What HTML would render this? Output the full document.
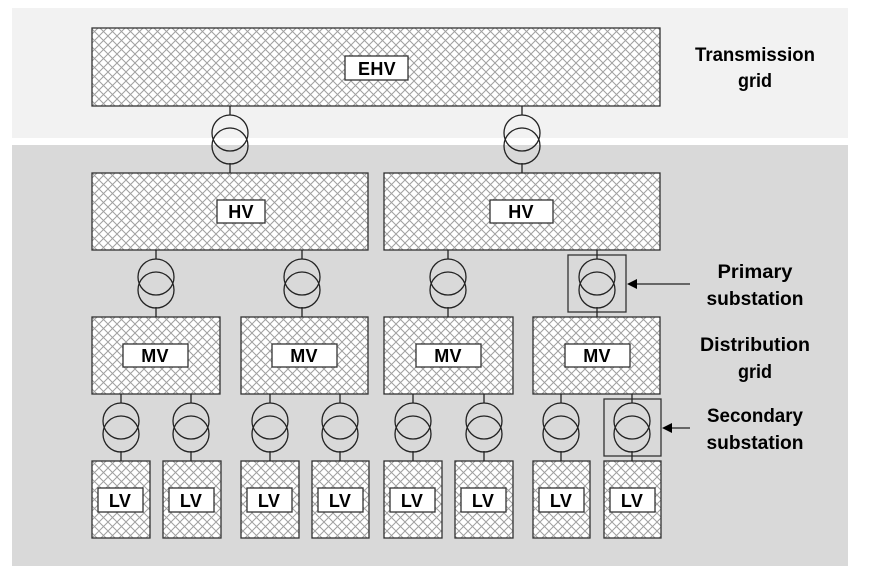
<!DOCTYPE html>
<html><head><meta charset="utf-8"><style>
html,body{margin:0;padding:0;background:#fff;}
svg{display:block;}
text{font-family:"Liberation Sans",sans-serif;font-weight:bold;fill:#000;}
</style></head><body>
<svg width="869" height="588" viewBox="0 0 869 588" xmlns="http://www.w3.org/2000/svg">
<defs>
<pattern id="h" width="9" height="9" patternUnits="userSpaceOnUse">
<rect width="9" height="9" fill="#fff"/>
<path d="M0,0 L9,9 M9,0 L0,9" stroke="#a0a0a0" stroke-width="1"/>
</pattern>
</defs>
<rect x="12" y="8" width="836" height="130" fill="#f2f2f2"/>
<rect x="12" y="145" width="836" height="421" fill="#d9d9d9"/>

<g stroke="#333" stroke-width="1.3">
<rect x="92" y="28" width="568" height="78" fill="url(#h)"/>
<rect x="92" y="173" width="276" height="77" fill="url(#h)"/>
<rect x="384" y="173" width="276" height="77" fill="url(#h)"/>
<rect x="92" y="317" width="128" height="77" fill="url(#h)"/>
<rect x="241" y="317" width="127" height="77" fill="url(#h)"/>
<rect x="384" y="317" width="129" height="77" fill="url(#h)"/>
<rect x="533" y="317" width="127" height="77" fill="url(#h)"/>
<rect x="92" y="461" width="58" height="77" fill="url(#h)"/>
<rect x="163" y="461" width="58" height="77" fill="url(#h)"/>
<rect x="241" y="461" width="58" height="77" fill="url(#h)"/>
<rect x="312" y="461" width="57" height="77" fill="url(#h)"/>
<rect x="384" y="461" width="58" height="77" fill="url(#h)"/>
<rect x="455" y="461" width="58" height="77" fill="url(#h)"/>
<rect x="533" y="461" width="57" height="77" fill="url(#h)"/>
<rect x="604" y="461" width="57" height="77" fill="url(#h)"/>
<g fill="#fff">
<rect x="345" y="56" width="63" height="24"/>
<rect x="217" y="200" width="48" height="23"/>
<rect x="490" y="200" width="63" height="23"/>
<rect x="123" y="344" width="65" height="23"/>
<rect x="272" y="344" width="65" height="23"/>
<rect x="416" y="344" width="65" height="23"/>
<rect x="565" y="344" width="65" height="23"/>
<rect x="98" y="488" width="45" height="24"/>
<rect x="169" y="488" width="45" height="24"/>
<rect x="247" y="488" width="45" height="24"/>
<rect x="318" y="488" width="45" height="24"/>
<rect x="390" y="488" width="45" height="24"/>
<rect x="461" y="488" width="45" height="24"/>
<rect x="539" y="488" width="45" height="24"/>
<rect x="610" y="488" width="45" height="24"/>
</g>
<rect x="568" y="255" width="58" height="57" fill="none"/>
<rect x="604" y="399" width="57" height="57" fill="none"/>
</g>

<g stroke="#222" stroke-width="1.3" fill="none">
<path d="M230,106 V115 M230,163 V173 M522,106 V115 M522,163 V173"/>
<circle cx="230" cy="133" r="18"/><circle cx="230" cy="146" r="18"/>
<circle cx="522" cy="133" r="18"/><circle cx="522" cy="146" r="18"/>
<path d="M156,250 V259 M156,307 V317 M302,250 V259 M302,307 V317 M448,250 V259 M448,307 V317 M597,250 V259 M597,307 V317"/>
<circle cx="156" cy="277" r="18"/><circle cx="156" cy="290" r="18"/>
<circle cx="302" cy="277" r="18"/><circle cx="302" cy="290" r="18"/>
<circle cx="448" cy="277" r="18"/><circle cx="448" cy="290" r="18"/>
<circle cx="597" cy="277" r="18"/><circle cx="597" cy="290" r="18"/>
<path d="M121,394 V403 M121,451 V461 M191,394 V403 M191,451 V461 M270,394 V403 M270,451 V461 M340,394 V403 M340,451 V461 M413,394 V403 M413,451 V461 M484,394 V403 M484,451 V461 M561,394 V403 M561,451 V461 M632,394 V403 M632,451 V461"/>
<circle cx="121" cy="421" r="18"/><circle cx="121" cy="434" r="18"/>
<circle cx="191" cy="421" r="18"/><circle cx="191" cy="434" r="18"/>
<circle cx="270" cy="421" r="18"/><circle cx="270" cy="434" r="18"/>
<circle cx="340" cy="421" r="18"/><circle cx="340" cy="434" r="18"/>
<circle cx="413" cy="421" r="18"/><circle cx="413" cy="434" r="18"/>
<circle cx="484" cy="421" r="18"/><circle cx="484" cy="434" r="18"/>
<circle cx="561" cy="421" r="18"/><circle cx="561" cy="434" r="18"/>
<circle cx="632" cy="421" r="18"/><circle cx="632" cy="434" r="18"/>
<path d="M690,284 H634 M690,428 H669"/>
</g>
<path d="M627,284 L637,279 L637,289 Z M662,428 L672,423 L672,433 Z" fill="#000"/>

<g font-size="18" text-anchor="middle" letter-spacing="0.3">
<text x="377" y="75">EHV</text>
<text x="241" y="218">HV</text>
<text x="521" y="218">HV</text>
<text x="155" y="362">MV</text>
<text x="304" y="362">MV</text>
<text x="448" y="362">MV</text>
<text x="597" y="362">MV</text>
<text x="120" y="507">LV</text>
<text x="191" y="507">LV</text>
<text x="269" y="507">LV</text>
<text x="340" y="507">LV</text>
<text x="412" y="507">LV</text>
<text x="483" y="507">LV</text>
<text x="561" y="507">LV</text>
<text x="632" y="507">LV</text>
</g>
<g font-size="19" text-anchor="middle">
<text x="755" y="61" textLength="120" lengthAdjust="spacingAndGlyphs">Transmission</text>
<text x="755" y="87" textLength="34" lengthAdjust="spacingAndGlyphs">grid</text>
<text x="755" y="278" textLength="75" lengthAdjust="spacingAndGlyphs">Primary</text>
<text x="755" y="305" textLength="97" lengthAdjust="spacingAndGlyphs">substation</text>
<text x="755" y="351" textLength="110" lengthAdjust="spacingAndGlyphs">Distribution</text>
<text x="755" y="378" textLength="34" lengthAdjust="spacingAndGlyphs">grid</text>
<text x="755" y="422" textLength="96" lengthAdjust="spacingAndGlyphs">Secondary</text>
<text x="755" y="449" textLength="97" lengthAdjust="spacingAndGlyphs">substation</text>
</g>
</svg>
</body></html>
